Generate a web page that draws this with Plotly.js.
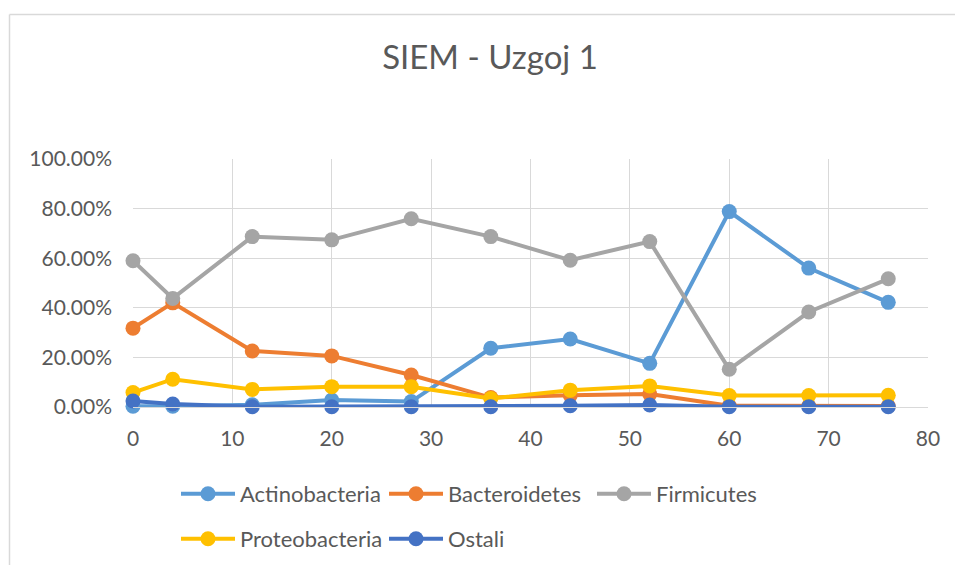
<!DOCTYPE html>
<html>
<head>
<meta charset="utf-8">
<script src="https://cdn.plot.ly/plotly-3.0.1.min.js"></script>
<style>
html,body{margin:0;padding:0;background:#fff;}
#chart{width:955px;height:565px;}
</style>
</head>
<body>
<div id="chart"></div>
<script>
const days = [0, 4, 12, 20, 28, 36, 44, 52, 60, 68, 76];
const actinobacteria = [0.003, 0.003, 0.009, 0.028, 0.022, 0.237, 0.274, 0.176, 0.788, 0.560, 0.422];
const bacteroidetes = [0.318, 0.420, 0.226, 0.206, 0.129, 0.038, 0.047, 0.052, 0.005, 0.004, 0.004];
const firmicutes = [0.590, 0.438, 0.687, 0.674, 0.759, 0.687, 0.592, 0.667, 0.152, 0.383, 0.517];
const proteobacteria = [0.058, 0.112, 0.071, 0.082, 0.082, 0.034, 0.068, 0.085, 0.046, 0.046, 0.047];
const ostali = [0.024, 0.012, 0.001, 0.001, 0.001, 0.001, 0.005, 0.008, 0.001, 0.001, 0.001];

const seriesNames = ['Actinobacteria', 'Bacteroidetes', 'Firmicutes', 'Proteobacteria', 'Ostali'];
const seriesValues = [actinobacteria, bacteroidetes, firmicutes, proteobacteria, ostali];
const seriesColors = ['#5B9BD5', '#ED7D31', '#A5A5A5', '#FFC000', '#4472C4'];
const seriesLegend = ['legend', 'legend', 'legend', 'legend2', 'legend2'];

const W = 955, H = 565;
const M = {l: 133, r: 27, t: 159, b: 158, autoexpand: false};
const pw = W - M.l - M.r, ph = H - M.t - M.b;
const px = v => (v - M.l) / pw;
const py = v => (H - M.b - v) / ph;

const FONT = 'Lato, "Open Sans", sans-serif';
const TXT = '#595959';

const traces = seriesNames.map((name, i) => ({
  type: 'scatter',
  mode: 'lines+markers',
  name: name,
  x: days,
  y: seriesValues[i],
  line: {color: seriesColors[i], width: 4},
  marker: {color: seriesColors[i], size: 15},
  cliponaxis: false,
  legend: seriesLegend[i],
  hoverinfo: 'x+y+name'
}));

const legendCommon = {
  orientation: 'h',
  xanchor: 'left',
  yanchor: 'middle',
  font: {family: FONT, size: 22, color: TXT},
  bgcolor: 'rgba(0,0,0,0)',
  itemwidth: 54,
  entrywidth: 139,
  entrywidthmode: 'pixels',
  tracegroupgap: 0,
  itemclick: false
};

const layout = {
  width: W,
  height: H,
  margin: M,
  paper_bgcolor: '#ffffff',
  plot_bgcolor: '#ffffff',
  title: {
    text: 'SIEM - Uzgoj 1',
    font: {family: FONT, size: 33, color: TXT},
    x: px(490), xref: 'paper', xanchor: 'center',
    y: 1 - 57 / H, yref: 'container', yanchor: 'middle'
  },
  xaxis: {
    range: [0, 80],
    dtick: 10,
    tick0: 0,
    showgrid: true,
    gridcolor: '#D9D9D9',
    gridwidth: 1.3,
    zeroline: false,
    showline: true,
    linecolor: '#D9D9D9',
    linewidth: 1.3,
    ticks: '',
    ticklabelstandoff: 13,
    tickfont: {family: FONT, size: 21, color: TXT},
    fixedrange: true
  },
  yaxis: {
    range: [0, 1],
    dtick: 0.2,
    tick0: 0,
    tickformat: '.2%',
    showgrid: true,
    gridcolor: '#D9D9D9',
    gridwidth: 1.3,
    zeroline: false,
    showline: false,
    ticks: '',
    ticklabelstandoff: 20,
    tickfont: {family: FONT, size: 21, color: TXT},
    fixedrange: true
  },
  legend: Object.assign({}, legendCommon, {x: px(176), y: py(494)}),
  legend2: Object.assign({}, legendCommon, {x: px(176), y: py(539)}),
  shapes: [
    {type: 'line', xref: 'paper', yref: 'paper', x0: px(9.5), x1: px(9.5), y0: py(14.5), y1: py(H + 5),
     line: {color: '#D9D9D9', width: 1.5}},
    {type: 'line', xref: 'paper', yref: 'paper', x0: px(9.5), x1: px(W + 5), y0: py(14.5), y1: py(14.5),
     line: {color: '#D9D9D9', width: 1.5}}
  ],
  showlegend: true,
  hovermode: 'closest'
};

Plotly.newPlot('chart', traces, layout, {displayModeBar: false, staticPlot: false});
</script>
</body>
</html>
